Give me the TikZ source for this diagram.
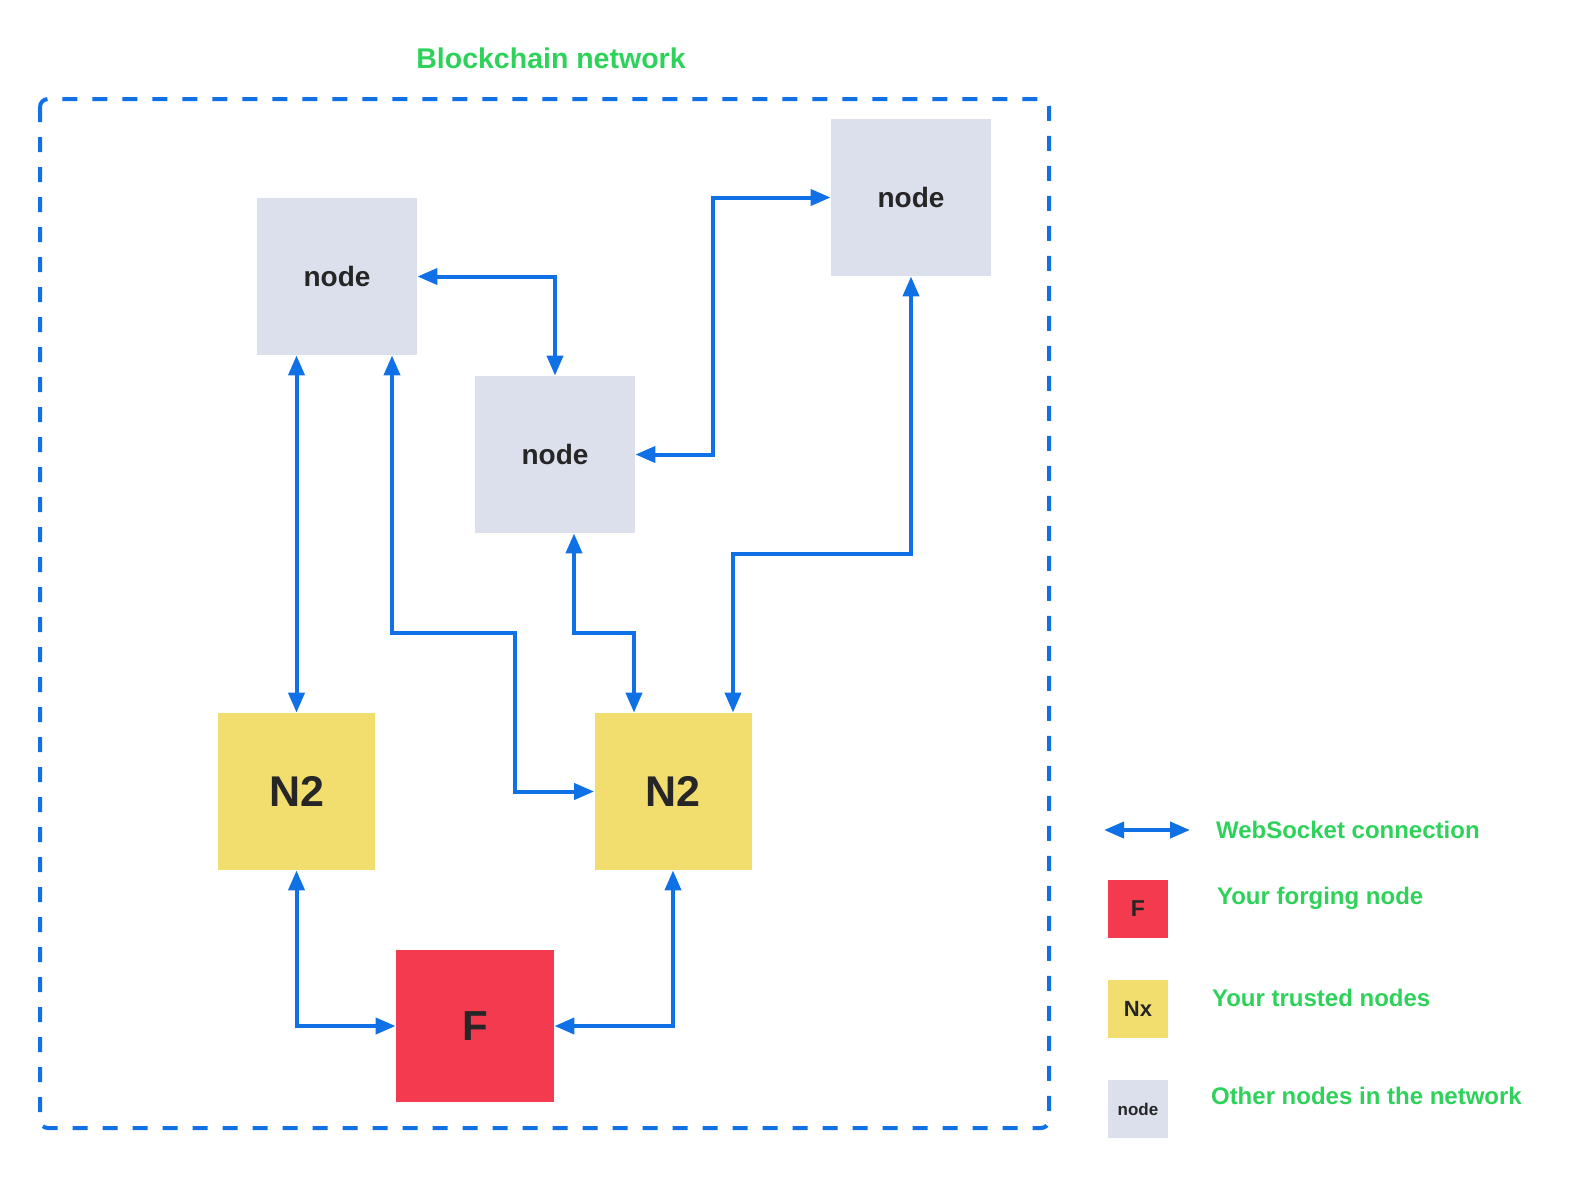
\documentclass[tikz,border=0pt]{standalone}
\usepackage{fontspec}
\setmainfont{Liberation Sans}
\usetikzlibrary{arrows.meta,calc}
\definecolor{linkblue}{HTML}{1070E5}
\definecolor{othergray}{HTML}{DCE0EC}
\definecolor{trustyellow}{HTML}{F2DE6E}
\definecolor{forgered}{HTML}{F43A4E}
\definecolor{labelgreen}{HTML}{2ED25A}
\begin{document}
\begin{tikzpicture}[x=0.5pt,y=-0.5pt,
  box/.style={inner sep=0pt,text=black!85,font=\bfseries},
  other/.style={box,fill=othergray,minimum width=80pt,minimum height=78.5pt,font=\bfseries\fontsize{14}{16}\selectfont},
  trusted/.style={box,fill=trustyellow,minimum width=78.5pt,minimum height=78.5pt,font=\bfseries\fontsize{21.5}{24}\selectfont},
  forging/.style={box,fill=forgered,minimum width=79pt,minimum height=76pt,font=\bfseries\fontsize{21}{24}\selectfont},
  link/.style={linkblue,line width=2pt,{Triangle[length=10pt,width=8pt]}-{Triangle[length=10pt,width=8pt]}},
  frame/.style={linkblue,line width=2pt,dash pattern=on 7.5pt off 7.5pt,rounded corners=4pt},
  legtext/.style={anchor=west,text=labelgreen,font=\bfseries\fontsize{12}{14}\selectfont}]
\useasboundingbox (0,0) rectangle (1584,1180);
\draw[frame](40,99) rectangle (1049,1128);
\node[text=labelgreen,font=\bfseries\fontsize{14.25}{16}\selectfont] (title) at (551,58){Blockchain network};
\node[other] (n1) at (337,276.5){node};
\node[other] (n2) at (555,454.5){node};
\node[other] (n3) at (911,197.5){node};
\node[trusted] (n2l) at (296.5,791.5){N2};
\node[trusted] (n2r) at (673,791.5){N2};
\node[forging] (f) at (475,1026){F};
\draw[link](n2l |- n1.south) -- (n2l.north);
\draw[link]($(n1.south)+(55,0)$) -- ++(0,278) -- ++(123,0) |- (n2r.west);
\draw[link](n1.east) -| (n2.north);
\draw[link](n2.east) -- ++(78,0) |- (n3.west);
\draw[link]($(n2.south)+(19,0)$) -- ++(0,100) -| ($(n2r.north)+(-39,0)$);
\draw[link](n3.south) -- ++(0,278) -| ($(n2r.north)+(60,0)$);
\draw[link](n2l.south) |- (f.west);
\draw[link](n2r.south) |- (f.east);
\coordinate (legl) at (1104,830);
\coordinate (legr) at (1190,830);
\draw[link](legl) -- (legr);
\node[legtext] (legws) at (1209,830){WebSocket connection};
\node[box,fill=forgered,minimum width=30pt,minimum height=29pt,font=\bfseries\fontsize{11.5}{13}\selectfont] (legf) at (1138,909){F};
\node[legtext] (legft) at (1210,898){Your forging node};
\node[box,fill=trustyellow,minimum width=30pt,minimum height=29pt,font=\bfseries\fontsize{11}{13}\selectfont] (legn) at (1138,1009){Nx};
\node[legtext] (legnt) at (1205,998){Your trusted nodes};
\node[box,fill=othergray,minimum width=30pt,minimum height=29pt,font=\bfseries\fontsize{8.5}{10}\selectfont] (lego) at (1138,1109){node};
\node[legtext] (legot) at (1204,1096){Other nodes in the network};
\end{tikzpicture}
\end{document}
